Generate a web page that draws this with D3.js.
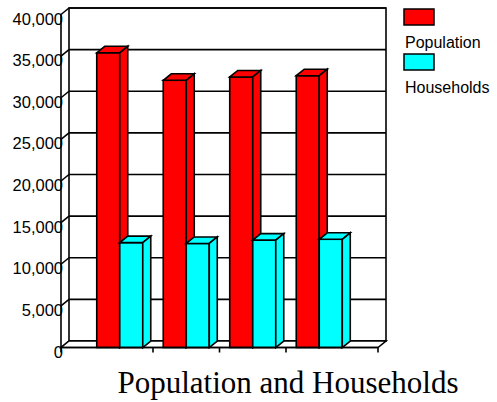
<!DOCTYPE html>
<html>
<head>
<meta charset="utf-8">
<script src="https://cdn.jsdelivr.net/npm/d3@7"></script>
<style>
  html, body { margin: 0; padding: 0; background: #fff; }
  svg { display: block; }
</style>
</head>
<body>
<script>
// Chart data
const categories = ["Area 1", "Area 2", "Area 3", "Area 4"];
const seriesNames = ["Population", "Households"];
const population = [35400, 32100, 32500, 32650];
const households = [12600, 12500, 12900, 13000];
const yTickValues = [0, 5000, 10000, 15000, 20000, 25000, 30000, 35000, 40000];
const seriesColors = ["#ff0000", "#00ffff"];
const chartTitle = "Population and Households";

const W = 497, H = 402;
const depthX = 8, depthY = 6.5;           // 3-D offset from front plane to back wall
const frontLeft = 61, frontRight = 378;   // front edge of the floor
const backLeft = frontLeft + depthX, backRight = frontRight + depthX;

const svg = d3.select("body").append("svg")
  .attr("width", W).attr("height", H)
  .style("font-family", "'Liberation Sans', Arial, sans-serif");

// value scale on the back wall; front plane is shifted down by depthY
const y = d3.scaleLinear().domain([0, 40000]).range([341, 8]);
const yFront = v => y(v) + depthY;

const x = d3.scaleBand().domain(categories)
  .range([86.5, 352.5]).paddingInner(0.308).paddingOuter(0.154);
const xs = d3.scaleBand().domain(seriesNames).range([0, x.bandwidth()]);

const line = { stroke: "#000", "stroke-width": 1.6, fill: "none" };
function styled(sel, attrs) { for (const k in attrs) sel.attr(k, attrs[k]); return sel; }

// back wall
styled(svg.append("rect"), line)
  .attr("x", backLeft).attr("y", y(40000))
  .attr("width", backRight - backLeft).attr("height", y(0) - y(40000))
  .attr("fill", "#fff");

// gridlines on the back wall and their diagonals on the side wall
const grid = svg.append("g");
yTickValues.forEach(v => {
  styled(grid.append("line"), line)
    .attr("x1", backLeft).attr("x2", backRight).attr("y1", y(v)).attr("y2", y(v));
  styled(grid.append("line"), line)
    .attr("x1", frontLeft).attr("y1", yFront(v)).attr("x2", backLeft).attr("y2", y(v));
});

// floor
styled(svg.append("path"), line)
  .attr("fill", "#fff")
  .attr("d", `M${frontLeft},${yFront(0)}L${backLeft},${y(0)}L${backRight},${y(0)}L${frontRight},${yFront(0)}Z`);

// value labels
svg.append("g").selectAll("text").data(yTickValues).join("text")
  .attr("x", 63).attr("y", d => yFront(d) + 10)
  .attr("text-anchor", "end").attr("font-size", 16.5).attr("fill", "#000")
  .text(d => d3.format(",")(d));

// front value axis
styled(svg.append("line"), line)
  .attr("x1", frontLeft).attr("x2", frontLeft)
  .attr("y1", yFront(40000)).attr("y2", yFront(0));

// category axis ticks at group boundaries and axis ends
const tickXs = [frontLeft, ...categories.slice(1).map(c => x(c) - x.step() * x.paddingInner() / 2), frontRight];
styled(svg.append("g").selectAll("line").data(tickXs).join("line"), line)
  .attr("x1", d => d).attr("x2", d => d)
  .attr("y1", yFront(0)).attr("y2", yFront(0) + 5);

// 3-D bars
const values = [population, households];
const bars = svg.append("g").attr("stroke", "#000").attr("stroke-width", 1.6).attr("stroke-linejoin", "miter");
categories.forEach((c, i) => {
  seriesNames.forEach((s, j) => {
    const v = values[j][i];
    const x0 = x(c) + xs(s), x1 = x0 + xs.bandwidth();
    const yt = yFront(v), yb = yFront(0);
    const g = bars.append("g").attr("fill", seriesColors[j]);
    g.append("rect").attr("x", x0).attr("y", yt).attr("width", x1 - x0).attr("height", yb - yt);
    g.append("path").attr("d",
      `M${x0},${yt}L${x0 + depthX},${yt - depthY}L${x1 + depthX},${yt - depthY}L${x1},${yt}Z`);
    g.append("path").attr("d",
      `M${x1},${yt}L${x1 + depthX},${yt - depthY}L${x1 + depthX},${yb - depthY}L${x1},${yb}Z`);
  });
});

// front edge of the floor drawn over the bar bases
styled(svg.append("line"), line)
  .attr("x1", frontLeft).attr("x2", frontRight)
  .attr("y1", yFront(0)).attr("y2", yFront(0));

// legend
const legend = svg.append("g");
seriesNames.forEach((s, j) => {
  const top = 9 + j * 45;
  legend.append("rect").attr("x", 404).attr("y", top).attr("width", 30).attr("height", 16)
    .attr("fill", seriesColors[j]).attr("stroke", "#000").attr("stroke-width", 1.5);
  legend.append("text").attr("x", 405).attr("y", top + 39)
    .attr("font-size", 16).attr("fill", "#000").text(s);
});

// title
svg.append("text")
  .attr("x", 288).attr("y", 393).attr("text-anchor", "middle")
  .attr("font-family", "'Liberation Serif', 'Times New Roman', serif")
  .attr("font-size", 31).attr("fill", "#000")
  .text(chartTitle);
</script>
</body>
</html>
